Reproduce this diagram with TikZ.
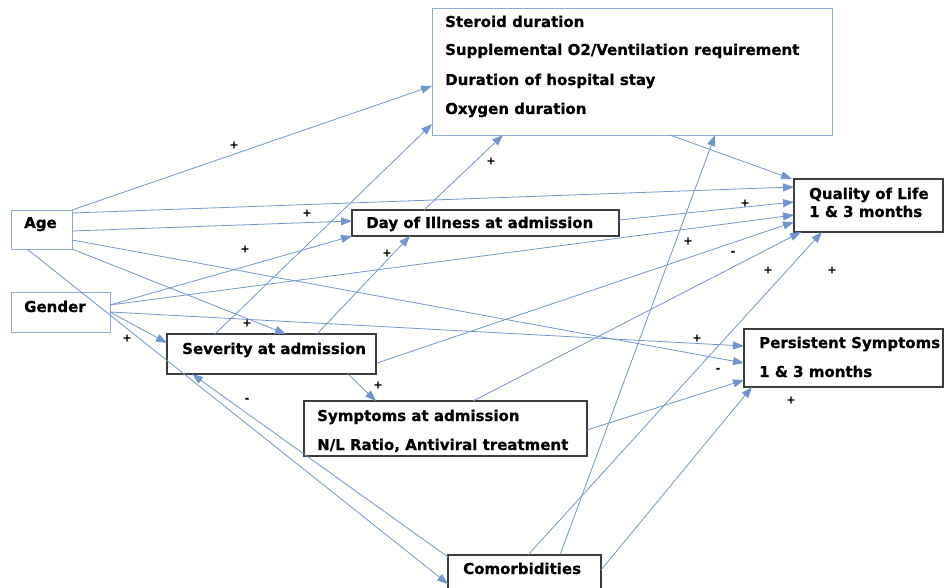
\documentclass[tikz,border=0pt]{standalone}
\usepackage{fontspec}
\usetikzlibrary{arrows.meta,calc}
\newfontfamily\boxfont{DejaVu Sans}[BoldFeatures={FakeBold=0.8}]
\definecolor{lnblue}{RGB}{112,150,205}
\definecolor{bxblue}{RGB}{140,172,214}
\definecolor{bxdark}{RGB}{60,60,60}
\begin{document}
\begin{tikzpicture}[x=1pt,y=-1pt,
  conn/.style={draw=lnblue, line width=0.8pt, -{Triangle[length=11pt,width=8pt,fill=lnblue]}},
  bluebox/.style={draw=bxblue, line width=0.9pt, anchor=north west, inner sep=0pt, outer sep=0pt},
  darkbox/.style={draw=bxdark, line width=1.2pt, anchor=north west, inner sep=0pt, outer sep=0pt},
  txt/.style={font=\boxfont\bfseries\fontsize{15}{18}\selectfont, anchor=base west, inner sep=0pt},
  sgn/.style={font=\boxfont\bfseries\fontsize{11}{12}\selectfont, inner sep=0pt}
]
\useasboundingbox (0,0) rectangle (944,588);
\clip (0,0) rectangle (944,588);

% boxes
\node[bluebox, minimum width=400pt, minimum height=127pt] (top) at (432,8) {};
\node[bluebox, minimum width=61pt, minimum height=39pt] (age) at (11,210) {};
\node[bluebox, minimum width=99pt, minimum height=40pt] (gender) at (11,292) {};
\node[darkbox, minimum width=267pt, minimum height=26pt] (day) at (352,210) {};
\node[darkbox, minimum width=149pt, minimum height=53pt] (qol) at (794,179) {};
\node[darkbox, minimum width=209pt, minimum height=40pt] (sev) at (167,334) {};
\node[darkbox, minimum width=283pt, minimum height=55pt] (symp) at (304,401) {};
\node[darkbox, minimum width=199pt, minimum height=58pt] (pers) at (744,329) {};
\node[darkbox, minimum width=153pt, minimum height=50pt] (comorb) at (448,555) {};

% texts
\node[txt] (top1) at (445,27) {Steroid duration};
\node[txt] (top2) at (445,55) {Supplemental O2/Ventilation requirement};
\node[txt] (top3) at (445,85) {Duration of hospital stay};
\node[txt] (top4) at (445,114) {Oxygen duration};
\node[txt] (aget) at (24,228) {Age};
\node[txt] (gendert) at (24,312) {Gender};
\node[txt] (dayt) at (366,228) {Day of Illness at admission};
\node[txt] (qol1) at (809,199) {Quality of Life};
\node[txt] (qol2) at (809,217) {1 \& 3 months};
\node[txt] (sevt) at (182,354) {Severity at admission};
\node[txt] (symp1) at (317,421) {Symptoms at admission};
\node[txt] (symp2) at (317,450) {N/L Ratio, Antiviral treatment};
\node[txt] (pers1) at (759,348) {Persistent Symptoms};
\node[txt] (pers2) at (759,377) {1 \& 3 months};
\node[txt] (comorbt) at (463,574) {Comorbidities};

% connectors
\draw[conn] (age.north east) -- ($(top.north west)+(0,78)$);
\draw[conn] ($(age.north east)+(0,3)$) -- ($(qol.north west)+(0,8)$);
\draw[conn] ($(age.north east)+(0,21)$) -- ($(day.north west)+(0,11)$);
\draw[conn] ($(age.north east)+(0,30)$) -- ($(pers.north west)+(0,34)$);
\draw[conn] (age.south east) -- ($(sev.north west)+(119,0)$);
\draw[conn] ($(age.south west)+(16,0)$) -- ($(comorb.north west)+(0,29)$);

\draw[conn] ($(gender.north east)+(0,13)$) -- (day.south west);
\draw[conn] ($(gender.north east)+(0,13)$) -- ($(qol.north west)+(0,36)$);
\draw[conn] ($(gender.north east)+(0,20)$) -- ($(pers.north west)+(0,17)$);
\draw[conn] ($(gender.north east)+(0,20)$) -- ($(sev.north west)+(0,9)$);

\draw[conn] ($(day.north west)+(72,0)$) -- ($(top.south west)+(71,0)$);
\draw[conn] ($(day.north east)+(0,10)$) -- ($(qol.north west)+(0,23)$);
\draw[conn] ($(top.south west)+(238,0)$) -- ($(qol.north west)+(-2,0)$);

\draw[conn] ($(sev.north west)+(48,0)$) -- ($(top.north west)+(0,116)$);
\draw[conn] ($(sev.north west)+(150,0)$) -- ($(day.south west)+(58,0)$);
\draw[conn] ($(sev.south west)+(181,0)$) -- ($(symp.north west)+(72,0)$);
\draw[conn] ($(sev.north east)+(1,29)$) -- ($(qol.north west)+(0,43)$);

\draw[conn] ($(symp.north west)+(169,0)$) -- ($(qol.south west)+(7,0)$);
\draw[conn] ($(symp.north east)+(0,29)$) -- ($(pers.north west)+(0,51)$);

\draw[conn] ($(comorb.north west)+(112,0)$) -- ($(top.south west)+(283,0)$);
\draw[conn] ($(comorb.north west)+(80,0)$) -- ($(qol.south west)+(28,0)$);
\draw[conn] ($(comorb.north east)+(0,15)$) -- ($(pers.south west)+(8,0)$);
\draw[conn] ($(comorb.north west)+(0,2)$) -- ($(sev.south west)+(25,0)$);

% signs
\node[sgn] (s1) at (234,145) {+};
\node[sgn] (s2) at (307,213) {+};
\node[sgn] (s3) at (245,249) {+};
\node[sgn] (s4) at (491,161) {+};
\node[sgn] (s5) at (387,253) {+};
\node[sgn] (s6) at (745,203) {+};
\node[sgn] (s7) at (688,241) {+};
\node[sgn] (s8) at (733,253) {-};
\node[sgn] (s9) at (768,270) {+};
\node[sgn] (s10) at (832,270) {+};
\node[sgn] (s11) at (247,323) {+};
\node[sgn] (s12) at (127,338) {+};
\node[sgn] (s13) at (378,385) {+};
\node[sgn] (s14) at (247,400) {-};
\node[sgn] (s15) at (697,338) {+};
\node[sgn] (s16) at (718,370) {-};
\node[sgn] (s17) at (791,400) {+};
\end{tikzpicture}
\end{document}
